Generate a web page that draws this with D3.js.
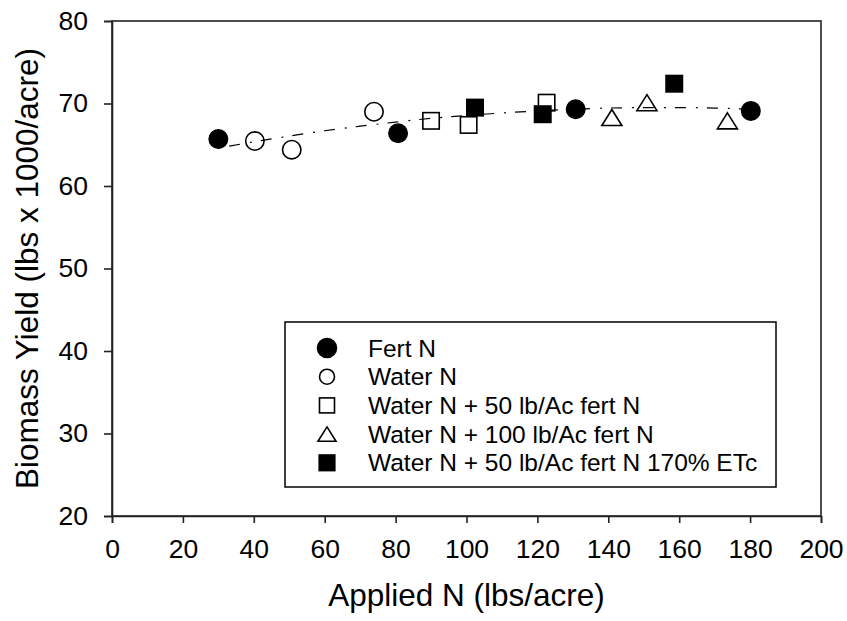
<!DOCTYPE html>
<html>
<head>
<meta charset="utf-8">
<script src="https://cdn.jsdelivr.net/npm/d3@7"></script>
<style>
  body { margin: 0; background: #fff; }
  text { font-family: "Liberation Sans", Arial, sans-serif; fill: #000; }
</style>
</head>
<body>
<svg id="chart" width="847" height="621"></svg>
<script>
// values
const fertN = [30.0, 80.7, 130.8, 180.2];
const fertYield = [65.7, 66.4, 69.3, 69.1];
const waterN = [40.3, 50.7, 73.9];
const waterYield = [65.45, 64.4, 69.0];
const w50N = [90.0, 100.6, 122.6];
const w50Yield = [67.9, 67.4, 70.1];
const w100N = [141.0, 150.9, 173.6];
const w100Yield = [68.3, 70.1, 67.9];
const etcN = [102.4, 121.5, 158.6];
const etcYield = [69.5, 68.7, 72.4];

// fitted curve
const fitN = [30, 40, 50, 60, 70, 80, 90, 100, 110, 120, 130, 140, 150, 160, 170, 180];
const fitYield = [64.6, 65.35, 66.05, 66.7, 67.25, 67.75, 68.2, 68.55, 68.85, 69.1, 69.3, 69.45, 69.5, 69.5, 69.45, 69.3];

const xTicks = [0, 20, 40, 60, 80, 100, 120, 140, 160, 180, 200];
const yTicks = [20, 30, 40, 50, 60, 70, 80];

const legendLabels = [
  "Fert N",
  "Water N",
  "Water N + 50 lb/Ac fert N",
  "Water N + 100 lb/Ac fert N",
  "Water N + 50 lb/Ac fert N 170% ETc"
];

const series = [
  { n: fertN, y: fertYield, shape: "circle", filled: true },
  { n: waterN, y: waterYield, shape: "circle", filled: false },
  { n: w50N, y: w50Yield, shape: "square", filled: false },
  { n: w100N, y: w100Yield, shape: "triangle", filled: false },
  { n: etcN, y: etcYield, shape: "square", filled: true }
];

const svg = d3.select("#chart");
const margin = { left: 112, right: 26, top: 21, bottom: 105 };
const W = 847, H = 621;

const x = d3.scaleLinear().domain([0, 200]).range([margin.left, W - margin.right]);
const y = d3.scaleLinear().domain([20, 80]).range([H - margin.bottom, margin.top]);

// frame
svg.append("rect")
  .attr("x", x(0)).attr("y", y(80))
  .attr("width", x(200) - x(0)).attr("height", y(20) - y(80))
  .attr("fill", "none").attr("stroke", "#222").attr("stroke-width", 1.6);

const xAxis = svg.append("g")
  .attr("transform", `translate(0,${y(20)})`)
  .call(d3.axisBottom(x).tickValues(xTicks).tickSize(7).tickPadding(16).tickFormat(d3.format("d")));
const yAxis = svg.append("g")
  .attr("transform", `translate(${x(0)},0)`)
  .call(d3.axisLeft(y).tickValues(yTicks).tickSize(8).tickPadding(16).tickFormat(d3.format("d")));

[xAxis, yAxis].forEach(g => {
  g.select(".domain").attr("stroke", "#222").attr("stroke-width", 1.6);
  g.selectAll(".tick line").attr("stroke", "#222").attr("stroke-width", 1.6);
  g.selectAll(".tick text")
    .attr("font-family", "Liberation Sans, Arial, sans-serif")
    .attr("font-size", 26.5).attr("fill", "#000");
});

// axis titles
svg.append("text")
  .attr("x", (x(0) + x(200)) / 2).attr("y", 606)
  .attr("text-anchor", "middle").attr("font-size", 31.5)
  .text("Applied N (lbs/acre)");
svg.append("text")
  .attr("transform", `translate(38,${(y(20) + y(80)) / 2}) rotate(-90)`)
  .attr("text-anchor", "middle").attr("font-size", 31.5)
  .text("Biomass Yield (lbs x 1000/acre)");

// fitted line
svg.append("path")
  .datum(fitN.map((n, i) => [n, fitYield[i]]))
  .attr("fill", "none").attr("stroke", "#000").attr("stroke-width", 1.2)
  .attr("stroke-dasharray", "2,9,11,10")
  .attr("d", d3.line().x(d => x(d[0])).y(d => y(d[1])).curve(d3.curveMonotoneX));

function marker(g, shape, filled, s) {
  let p;
  if (shape === "circle") {
    p = g.append("circle").attr("r", s);
  } else if (shape === "square") {
    p = g.append("rect").attr("x", -s).attr("y", -s).attr("width", 2 * s).attr("height", 2 * s);
  } else {
    const h = s * 1.6;
    p = g.append("path").attr("d", `M0,${-h / 2}L${s},${h / 2}L${-s},${h / 2}Z`);
  }
  p.attr("fill", filled ? "#000" : "none").attr("stroke", "#000").attr("stroke-width", 1.6);
  return p;
}

const dataSize = { circle: 9.2, square: 8.2, triangle: 10 };
series.forEach(sr => {
  sr.n.forEach((n, i) => {
    const g = svg.append("g").attr("transform", `translate(${x(n)},${y(sr.y[i])})`);
    marker(g, sr.shape, sr.filled, dataSize[sr.shape]);
  });
});

// legend
const lg = svg.append("g");
lg.append("rect")
  .attr("x", 285).attr("y", 322).attr("width", 491).attr("height", 165)
  .attr("fill", "#fff").attr("stroke", "#000").attr("stroke-width", 1.5);
const legendSize = [9.5, 7.5, 7.5, 9, 7.8];
legendLabels.forEach((lab, i) => {
  const cy = 348 + i * 28.7;
  const g = lg.append("g").attr("transform", `translate(327,${cy})`);
  marker(g, series[i].shape, series[i].filled, legendSize[i]);
  lg.append("text")
    .attr("x", 368).attr("y", cy).attr("dy", "0.35em")
    .attr("font-size", 24.5)
    .text(lab);
});
</script>
</body>
</html>
